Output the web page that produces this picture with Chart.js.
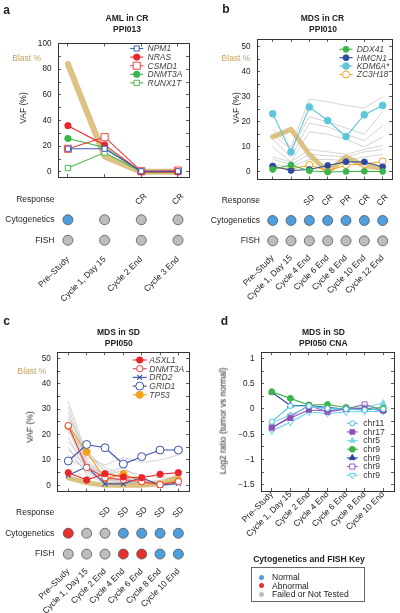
<!DOCTYPE html>
<html><head><meta charset="utf-8">
<script src="https://cdn.jsdelivr.net/npm/chart.js@4/dist/chart.umd.min.js"></script>
<style>
html,body{margin:0;padding:0;background:#fff;}
#wrap{position:relative;width:400px;height:613px;overflow:hidden;font-family:"Liberation Sans",Arial,Helvetica,sans-serif;color:#222;}
canvas{position:absolute;left:0;top:0;}
.t{position:absolute;white-space:nowrap;line-height:1;transform:translate(-50%,-50%);z-index:5;}
.b{font-weight:bold;}
.r{transform:translate(-50%,-50%) rotate(-90deg);}
#key{position:absolute;left:251px;top:566.5px;width:114px;height:35px;border:1px solid #666;box-sizing:border-box;}
.kd{position:absolute;width:5px;height:5px;border-radius:50%;}
.kt{position:absolute;font-size:8.6px;line-height:1;white-space:nowrap;}
</style></head>
<body><div id="wrap">
<canvas id="pa" width="400" height="613"></canvas>
<canvas id="ra" width="400" height="613"></canvas>
<canvas id="pb" width="400" height="613"></canvas>
<canvas id="rb" width="400" height="613"></canvas>
<canvas id="pc" width="400" height="613"></canvas>
<canvas id="rc" width="400" height="613"></canvas>
<canvas id="pd" width="400" height="613"></canvas>
<div id="key"></div>
</div>
<script>
// ---------------- DATA ----------------
// Panel a: AML in CR, PPI013
const catsA = ['Pre\u2013Study','Cycle 1, Day 15','Cycle 2 End','Cycle 3 End'];
const blastA = [84, 12, 0, 0];
const npm1A = [18, 18, 0.5, 0.5];
const nrasA = [36, 21, 0, 0];
const csmd1A = [18, 27, 0.5, 1];
const dnmt3aA = [26, 19, 0, 0];
const runx1tA = [3, 15, 0, 0];
const responseA = ['', '', 'CR', 'CR'];
const cytoA = ['N','F','F','F'];
const fishA = ['F','F','F','F'];
const yTicksA = [0,20,40,60,80,100];

// Panel b: MDS in CR, PPI010
const catsB = ['Pre\u2013Study','Cycle 1, Day 15','Cycle 4 End','Cycle 6 End','Cycle 8 End','Cycle 10 End','Cycle 12 End'];
const blastB = [14, 17, 7, 0, 6, 2.5, 1.5];
const ddx41B = [1, 2.8, 0.5, 0, 0.2, 0.3, 0.2];
const hmcn1B = [2.4, 0.6, 1, 2.6, 4.1, 4, 2.1];
const kdm6aB = [23.2, 8, 25.9, 20.5, 14.1, 22.8, 26.5];
const zc3h18B = [1.8, 1.2, 2.8, 0.4, 2.8, 3.2, 4.2];
const grayB = [
  [17, 10, 29, 28, 26.5, 25.5, 30],
  [15, 9, 22, 20, 17.5, 15, 24],
  [13, 6, 19.5, 18, 15, 12.5, 18.5],
  [10, 4, 16, 15, 13, 10, 14],
  [6, 4, 9, 8, 7, 9, 10.5],
  [5, 3, 7, 6.5, 6, 8, 9],
  [3, 2, 5, 5, 4.5, 6, 7]
];
const responseB = ['', '', 'SD', 'CR', 'PR', 'CR', 'CR'];
const cytoB = ['N','N','N','N','N','N','N'];
const fishB = ['F','F','F','F','F','F','F'];
const yTicksB = [0,10,20,30,40,50];

// Panel c: MDS in SD, PPI050
const catsC = ['Pre\u2013Study','Cycle 1, Day 15','Cycle 2 End','Cycle 4 End','Cycle 6 End','Cycle 8 End','Cycle 10 End'];
const blastC = [3, 1, 0, 0, 0, 0.5, 3.5];
const asxl1C = [5, 2.1, 4.6, 3.3, 3, 4.4, 5];
const dnmt3aC = [23.5, 7, 3, 2.2, 1.5, 0.3, 1.5];
const drd2C = [4, 7.3, 0.6, 0.6, 3.1, 0, 0.8];
const grid1C = [9.6, 16.1, 14.8, 8.4, 11.3, 13.9, 13.9];
const tp53C = [23.3, 13.2, 2.6, 4.5, 1.4, 0.4, 1.9];
const grayC = [
  [33, 12, 6, 3, 1, 2, 3],
  [31, 10, 4, 6, 4, 3, 3],
  [29, 9, 3, 2, 1, 0.5, 1],
  [27, 14, 5, 7, 2, 1, 2],
  [26, 8, 2, 1, 0.5, 0.5, 0.5],
  [25, 11, 8, 11, 9, 10, 12],
  [24, 7, 3, 2, 1, 0.5, 1],
  [22, 6, 1, 1, 0.5, 0.5, 0.5],
  [21, 13, 7, 4, 2, 1, 1],
  [19, 5, 2, 3, 2, 1, 1],
  [17, 9, 4, 2, 1, 0.5, 0.5],
  [15, 4, 1, 0.5, 0.5, 0.2, 0.2],
  [14, 8, 3, 1, 1, 0.5, 1],
  [12, 6, 2, 2, 0.5, 0.5, 0.5],
  [10, 7, 5, 3, 1, 0.5, 0.5]
];
const responseC = ['', '', 'SD', 'SD', 'SD', 'SD', 'SD'];
const cytoC = ['A','F','F','N','N','N','N'];
const fishC = ['F','F','F','A','A','N','N'];
const yTicksC = [0,10,20,30,40,50];

// Panel d: MDS in SD, PPI050 CNA
const catsD = ['Pre\u2013Study','Cycle 1, Day 15','Cycle 2 End','Cycle 4 End','Cycle 6 End','Cycle 8 End','Cycle 10 End'];
const chr11D = [-0.25, 0.06, 0.06, 0.01, 0, -0.02, 0];
const chr17D = [-0.36, -0.18, -0.02, -0.04, 0, 0.01, -0.03];
const chr5D = [-0.27, -0.12, 0.05, 0, 0, 0.03, 0.12];
const chr9aD = [0.34, 0.21, 0.08, 0.09, 0.03, 0.01, 0.03];
const chr9bD = [0.33, 0.07, 0.07, 0.03, 0, 0, -0.02];
const chr9cD = [-0.38, -0.15, 0.07, -0.06, 0, 0.09, -0.03];
const chr9dD = [-0.43, -0.26, -0.06, -0.09, -0.06, -0.05, -0.05];
const yTicksD = [-1.5,-1,-0.5,0,0.5,1];

const statusColors = {N:'#4f9fdf', A:'#e8302f', F:'#bdbdbd'};
const statusNames = [['N','Normal'],['A','Abnormal'],['F','Failed or Not Tested']];

// ---------------- HELPERS ----------------
const W = 400, H = 613;
const FONT = '"Liberation Sans", Arial, Helvetica, sans-serif';
const TXT = '#222', AX = '#333';
const BLAST = 'rgba(214,184,112,0.85)';

function fmt(v){ let s = (Math.abs(v-Math.round(v))<1e-9) ? String(Math.round(v)) : String(v); return s.replace('-', '\u2212'); }
function withMinors(m){ const o=[]; for(let i=0;i<m.length;i++){ o.push(m[i]); if(i<m.length-1) o.push((m[i]+m[i+1])/2); } return o; }
function pts(vals){ return vals.map((v,i)=>({x:i,y:v})); }
function series(label, vals, color, style, r, open, extra){
  return Object.assign({label, data:pts(vals), borderColor:color, borderWidth:1.1, pointStyle:style, pointRadius:r,
    pointBackgroundColor: open ? '#fff' : color, pointBorderColor:color, pointBorderWidth: open ? 1 : 0.8,
    fill:false, tension:0, clip:false}, extra||{});
}
function grayLine(vals){ return {label:'', data:pts(vals), borderColor:'rgba(190,190,190,0.85)', borderWidth:0.8, pointRadius:0, clip:false}; }
function blastLine(vals, w){ return {label:'Blast %', data:pts(vals), borderColor:BLAST, borderWidth:w, pointRadius:0, borderCapStyle:'round', borderJoinStyle:'round', clip:false}; }

function drawMarker(ctx, ds, x, y){
  ctx.save();
  ctx.fillStyle = ds.pointBackgroundColor; ctx.strokeStyle = ds.pointBorderColor; ctx.lineWidth = ds.pointBorderWidth;
  if (Chart.helpers && Chart.helpers.drawPoint) {
    Chart.helpers.drawPoint(ctx, {pointStyle:ds.pointStyle, radius:ds.pointRadius, rotation:ds.pointRotation||0, borderWidth:ds.pointBorderWidth}, x, y);
  } else { ctx.beginPath(); ctx.arc(x,y,ds.pointRadius,0,Math.PI*2); ctx.fill(); ctx.stroke(); }
  ctx.restore();
}
function legendPlugin(cfg){
  return {id:'inlegend', afterDatasetsDraw(chart){
    const ctx = chart.ctx; ctx.save();
    cfg.items.forEach((idx,k)=>{
      const ds = chart.data.datasets[idx]; const y = cfg.y + k*cfg.dy;
      ctx.strokeStyle = ds.borderColor; ctx.lineWidth = ds.borderWidth;
      ctx.beginPath(); ctx.moveTo(cfg.x-cfg.half, y); ctx.lineTo(cfg.x+cfg.half, y); ctx.stroke();
      drawMarker(ctx, ds, cfg.x, y);
      ctx.fillStyle = cfg.color || '#333'; ctx.font = (cfg.italic?'italic ':'') + cfg.size + 'px ' + FONT;
      ctx.textAlign = 'left'; ctx.textBaseline = 'middle';
      ctx.fillText(ds.label, cfg.tx, y + 0.5);
    });
    ctx.restore();
  }};
}
function responsePlugin(resp){
  return {id:'resp', afterDatasetsDraw(chart){
    const ctx = chart.ctx, x = chart.scales.x, y = chart.scales.y;
    ctx.save(); ctx.font = '8.5px ' + FONT; ctx.fillStyle = TXT; ctx.textAlign = 'center'; ctx.textBaseline = 'middle';
    resp.forEach((t,i)=>{ if(!t) return; ctx.save(); ctx.translate(x.getPixelForValue(i), y.getPixelForValue(2.5)); ctx.rotate(-Math.PI/4); ctx.fillText(t,0,0); ctx.restore(); });
    ctx.restore();
  }};
}

function makePlot(id, g, cats, datasets, majors, leg, showX){
  const all = withMinors(majors);
  const idxTicks = s => { s.ticks = cats.map((c,i)=>({value:i})); };
  const yTicks = s => { s.ticks = all.map(v=>({value:v})); };
  const grid = {display:true, drawOnChartArea:false, drawTicks:true, tickLength:-3, tickColor:AX, tickWidth:0.8, color:AX};
  const border = {display:true, color:AX, width:1};
  new Chart(document.getElementById(id), {
    type:'line', data:{datasets},
    options:{
      responsive:false, animation:false, events:[], devicePixelRatio:1,
      layout:{padding:{left:0, top:g.T, right:W-g.R, bottom:0}},
      plugins:{legend:{display:false}, tooltip:{enabled:false}},
      scales:{
        x:{type:'linear', position:'bottom', min:g.xmin, max:g.xmax, afterBuildTicks:idxTicks,
          ticks:{display:!!showX, autoSkip:false, minRotation:45, maxRotation:45, padding:1.5, font:{family:FONT,size:8.5}, color:TXT, callback:v=>cats[v]},
          grid, border, afterFit:s=>{s.height = H-g.B;}},
        x2:{type:'linear', position:'top', min:g.xmin, max:g.xmax, afterBuildTicks:idxTicks, ticks:{display:false}, grid, border, afterFit:s=>{s.height=0;}},
        y:{type:'linear', position:'left', min:g.ymin, max:g.ymax, afterBuildTicks:yTicks,
          ticks:{padding:9.5, font:{family:FONT,size:8.2}, color:TXT, callback:v=> majors.includes(v) ? fmt(v) : ''},
          grid, border, afterFit:s=>{s.width = g.L;}},
        y2:{type:'linear', position:'right', min:g.ymin, max:g.ymax, afterBuildTicks:yTicks, ticks:{display:false}, grid, border, afterFit:s=>{s.width=0;}}
      }
    },
    plugins: leg ? [legendPlugin(leg)] : []
  });
}

function makeRows(id, g, rg, cats, resp, cyto, fish){
  const sp = (g.R - g.L)/(g.xmax - g.xmin);
  const xmin = g.xmin + (rg.L - g.L)/sp;
  const rowDs = (arr, yv) => ({label:'', data: arr.map((c,i)=>({x:i,y:yv})), showLine:false, pointRadius:5,
    pointBackgroundColor: arr.map(c=>statusColors[c]), pointBorderColor:'#555', pointBorderWidth:0.8, clip:false});
  const names = {0.5:'FISH', 1.5:'Cytogenetics', 2.5:'Response'};
  const noGrid = {display:false, drawTicks:false, tickLength:0};
  new Chart(document.getElementById(id), {
    type:'line', data:{datasets:[rowDs(cyto,1.5), rowDs(fish,0.5)]},
    options:{
      responsive:false, animation:false, events:[], devicePixelRatio:1,
      layout:{padding:{left:0, top:rg.T, right:W-g.R, bottom:0}},
      plugins:{legend:{display:false}, tooltip:{enabled:false}},
      scales:{
        x:{type:'linear', position:'bottom', min:xmin, max:g.xmax, afterBuildTicks:s=>{s.ticks = cats.map((c,i)=>({value:i}));},
          ticks:{autoSkip:false, minRotation:45, maxRotation:45, padding:rg.pad, font:{family:FONT,size:8.5}, color:TXT, callback:v=>cats[v]},
          grid:noGrid, border:{display:false}, afterFit:s=>{s.height = H-rg.B;}},
        y:{type:'linear', position:'left', min:0, max:3, afterBuildTicks:s=>{s.ticks=[0.5,1.5,2.5].map(v=>({value:v}));},
          ticks:{padding:rg.lpad, font:{family:FONT,size:8.5}, color:TXT, callback:v=>names[v]},
          grid:noGrid, border:{display:false}, afterFit:s=>{s.width = rg.L;}}
      }
    },
    plugins:[responsePlugin(resp)]
  });
}

// ---------------- PANELS ----------------
const gA = {L:58, T:43.5, R:189, B:177, xmin:-0.27, xmax:3.3, ymin:-4, ymax:100};
makePlot('pa', gA, catsA, [
  series('NPM1', npm1A, '#3f5cb8', 'rect', 3.6, true),
  series('NRAS', nrasA, '#e8262b', 'circle', 3.2, false),
  series('CSMD1', csmd1A, '#ee4646', 'rect', 5, true),
  series('DNMT3A', dnmt3aA, '#39b54a', 'circle', 3.2, false),
  series('RUNX1T', runx1tA, '#4dbb4d', 'rect', 3.8, true),
  blastLine(blastA, 6)
], yTicksA, {items:[0,1,2,3,4], x:136.7, y:48.5, dy:8.6, half:6.5, tx:147.5, size:8.5, italic:true, color:'#444'});
makeRows('ra', gA, {L:58, T:189, B:250.5, pad:4, lpad:3.5}, catsA, responseA, cytoA, fishA);

const gB = {L:257, T:39, R:392, B:179.5, xmin:-0.857, xmax:6.51, ymin:-3, ymax:53};
makePlot('pb', gB, catsB, [
  series('DDX41', ddx41B, '#3cb44b', 'circle', 3, false),
  series('HMCN1', hmcn1B, '#2e4a9e', 'circle', 3, false),
  series('KDM6A*', kdm6aB, '#5ec6d8', 'circle', 3.4, false),
  series('ZC3H18', zc3h18B, '#f7a21b', 'circle', 3.5, true),
  blastLine(blastB, 5),
  ...grayB.map(grayLine)
], yTicksB, {items:[0,1,2,3], x:346, y:49.3, dy:8.4, half:6.5, tx:356.7, size:8.5, italic:true, color:'#444'});
makeRows('rb', gB, {L:264, T:190, B:251, pad:2, lpad:4}, catsB, responseB, cytoB, fishB);

const gC = {L:57.3, T:352.3, R:189, B:491.7, xmin:-0.6, xmax:6.58, ymin:-2.5, ymax:52.4};
makePlot('pc', gC, catsC, [
  series('ASXL1', asxl1C, '#e8262b', 'circle', 3.2, false),
  series('DNMT3A', dnmt3aC, '#ee4040', 'circle', 3.2, true),
  series('DRD2', drd2C, '#3a53a8', 'crossRot', 3.5, false, {pointBorderWidth:1.1}),
  series('GRID1', grid1C, '#3a53a8', 'circle', 4, true),
  series('TP53', tp53C, '#f5a21b', 'circle', 3.6, false),
  blastLine(blastC, 5),
  ...grayC.map(grayLine)
], yTicksC, {items:[0,1,2,3,4], x:139.7, y:360, dy:8.7, half:7, tx:149.3, size:8.5, italic:true, color:'#444'});
makeRows('rc', gC, {L:57.3, T:502, B:564.5, pad:2, lpad:3}, catsC, responseC, cytoC, fishC);

const gD = {L:261, T:352.3, R:394, B:491, xmin:-0.58, xmax:6.58, ymin:-1.62, ymax:1.12};
makePlot('pd', gD, catsD, [
  series('chr11', chr11D, '#4fc3dc', 'circle', 2.6, true),
  series('chr17', chr17D, '#8b4fb5', 'rect', 3.4, false),
  series('chr5', chr5D, '#7fd6e6', 'triangle', 3.4, false),
  series('chr9', chr9aD, '#3cb44b', 'circle', 3, false),
  series('chr9', chr9bD, '#2b3f9e', 'triangle', 3.6, false),
  series('chr9', chr9cD, '#9a5cc4', 'rect', 3.6, true),
  series('chr9', chr9dD, '#5fd4f0', 'triangle', 3.6, true, {pointRotation:180})
], yTicksD, {items:[0,1,2,3,4,5,6], x:352.3, y:423.3, dy:8.65, half:5.5, tx:363.3, size:8.6, italic:false, color:'#333'}, true);

// ---------------- TEXT ----------------
const wrap = document.getElementById('wrap');
function txt(s, x, y, cls, style){ const d=document.createElement('div'); d.className='t '+(cls||''); d.textContent=s; d.style.left=x+'px'; d.style.top=y+'px'; Object.assign(d.style, style||{}); wrap.appendChild(d); }
const L12 = {fontSize:'12px'}, T85 = {fontSize:'8.5px'}, BL = {fontSize:'8.5px', color:'#c4a262'};
txt('a', 6.5, 9.5, 'b', L12); txt('b', 226, 9, 'b', L12); txt('c', 6.5, 321, 'b', L12); txt('d', 224.5, 320.5, 'b', L12);
txt('AML in CR', 127, 18.3, 'b', T85); txt('PPI013', 127, 29, 'b', T85);
txt('MDS in CR', 322.5, 18.3, 'b', T85); txt('PPI010', 323, 29, 'b', T85);
txt('MDS in SD', 118.5, 332.3, 'b', T85); txt('PPI050', 118.8, 342.7, 'b', T85);
txt('MDS in SD', 323.5, 332.3, 'b', T85); txt('PPI050 CNA', 323.3, 342.7, 'b', T85);
txt('Blast %', 26.7, 58.3, '', BL); txt('Blast %', 236, 58.3, '', BL); txt('Blast %', 32, 371, '', BL);
txt('VAF (%)', 23.3, 108, 'r', T85); txt('VAF (%)', 236, 108, 'r', T85); txt('VAF (%)', 29.7, 427, 'r', T85);
txt('Log2 ratio (tumor vs normal)', 223, 421, 'r', T85);
txt('Cytogenetics and FISH Key', 309, 559.3, 'b', {fontSize:'8.6px'});
const key = document.getElementById('key');
statusNames.forEach(([c,n],i)=>{
  const d=document.createElement('div'); d.className='kd'; d.style.background=statusColors[c]; d.style.left='7px'; d.style.top=(7+i*8.7)+'px'; key.appendChild(d);
  const t=document.createElement('div'); t.className='kt'; t.textContent=n; t.style.left='20px'; t.style.top=(5.3+i*8.7)+'px'; key.appendChild(t);
});
</script>
</body></html>
